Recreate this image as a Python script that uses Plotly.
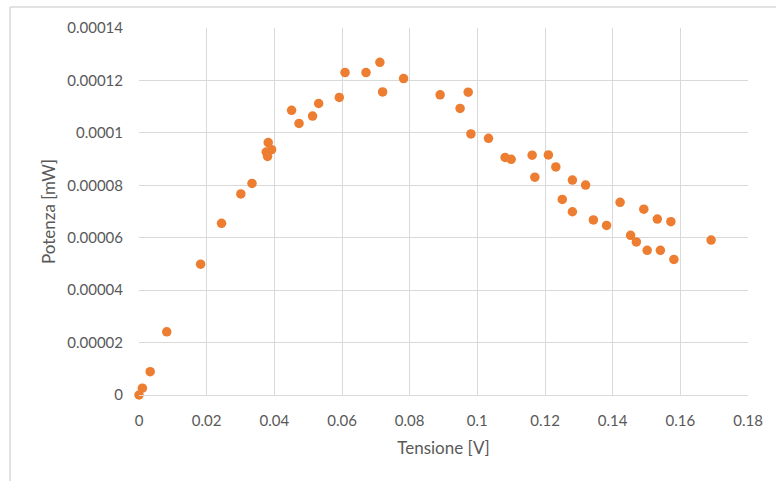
import plotly.graph_objects as go

tensione = [0.0, 0.001, 0.0033, 0.0082, 0.0182, 0.0244, 0.0301, 0.0334, 0.0376, 0.0382,
            0.0392, 0.0380, 0.0451, 0.0473, 0.0513, 0.0531, 0.0592, 0.0609, 0.0671, 0.0712,
            0.0720, 0.0782, 0.0890, 0.0949, 0.0973, 0.0981, 0.1033, 0.1082, 0.1100, 0.1162,
            0.1170, 0.1210, 0.1232, 0.1251, 0.1281, 0.1281, 0.1320, 0.1343, 0.1382, 0.1422,
            0.1453, 0.1470, 0.1492, 0.1502, 0.1532, 0.1541, 0.1572, 0.1581, 0.1691]
potenza = [0.0, 2.6e-6, 8.9e-6, 2.41e-5, 4.99e-5, 6.55e-5, 7.67e-5, 8.07e-5, 9.27e-5, 9.63e-5,
           9.36e-5, 9.10e-5, 1.086e-4, 1.036e-4, 1.064e-4, 1.112e-4, 1.135e-4, 1.23e-4, 1.23e-4, 1.269e-4,
           1.156e-4, 1.207e-4, 1.145e-4, 1.093e-4, 1.155e-4, 9.96e-5, 9.79e-5, 9.06e-5, 8.99e-5, 9.15e-5,
           8.31e-5, 9.16e-5, 8.70e-5, 7.46e-5, 8.20e-5, 6.99e-5, 8.01e-5, 6.68e-5, 6.47e-5, 7.35e-5,
           6.09e-5, 5.84e-5, 7.09e-5, 5.52e-5, 6.71e-5, 5.52e-5, 6.61e-5, 5.17e-5, 5.91e-5]

x_tickvals = [0, 0.02, 0.04, 0.06, 0.08, 0.1, 0.12, 0.14, 0.16, 0.18]
x_ticktext = ["0", "0.02", "0.04", "0.06", "0.08", "0.1", "0.12", "0.14", "0.16", "0.18"]
y_tickvals = [0, 0.00002, 0.00004, 0.00006, 0.00008, 0.0001, 0.00012, 0.00014]
y_ticktext = ["0", "0.00002", "0.00004", "0.00006", "0.00008", "0.0001", "0.00012", "0.00014"]

FONT = "Lato"
GRAY = "#595959"
GRID = "#d9d9d9"

fig = go.Figure()
fig.add_trace(go.Scatter(
    x=tensione, y=potenza, mode="markers",
    marker=dict(size=9.5, color="#ED7D31"),
    cliponaxis=False, showlegend=False,
))

fig.update_layout(
    width=776, height=481,
    margin=dict(l=139, r=28, t=28, b=86),
    paper_bgcolor="white", plot_bgcolor="white",
    font=dict(family=FONT, color=GRAY, size=15),
    xaxis=dict(
        range=[0, 0.18], tickvals=x_tickvals, ticktext=x_ticktext,
        showgrid=True, gridcolor=GRID, gridwidth=1,
        showline=True, linecolor=GRID, linewidth=1,
        zeroline=False, ticks="", ticklabelstandoff=12,
        tickfont=dict(family=FONT, size=15, color=GRAY),
        title=dict(text="Tensione [V]", font=dict(family=FONT, size=17, color=GRAY), standoff=14),
    ),
    yaxis=dict(
        range=[0, 0.00014], tickvals=y_tickvals, ticktext=y_ticktext,
        showgrid=True, gridcolor=GRID, gridwidth=1,
        showline=False, zeroline=False, ticks="", ticklabelstandoff=15,
        tickfont=dict(family=FONT, size=15, color=GRAY),
        title=dict(text="Potenza [mW]", font=dict(family=FONT, size=17, color=GRAY), standoff=7),
    ),
    shapes=[
        dict(type="line", xref="paper", yref="paper", x0=-0.2118, x1=-0.2118, y0=-0.5, y1=1.0572,
             line=dict(color=GRID, width=1.5), layer="below"),
        dict(type="line", xref="paper", yref="paper", x0=-0.2118, x1=1.2, y0=1.0572, y1=1.0572,
             line=dict(color=GRID, width=1.5), layer="below"),
    ],
)

fig.write_html("out.html")
